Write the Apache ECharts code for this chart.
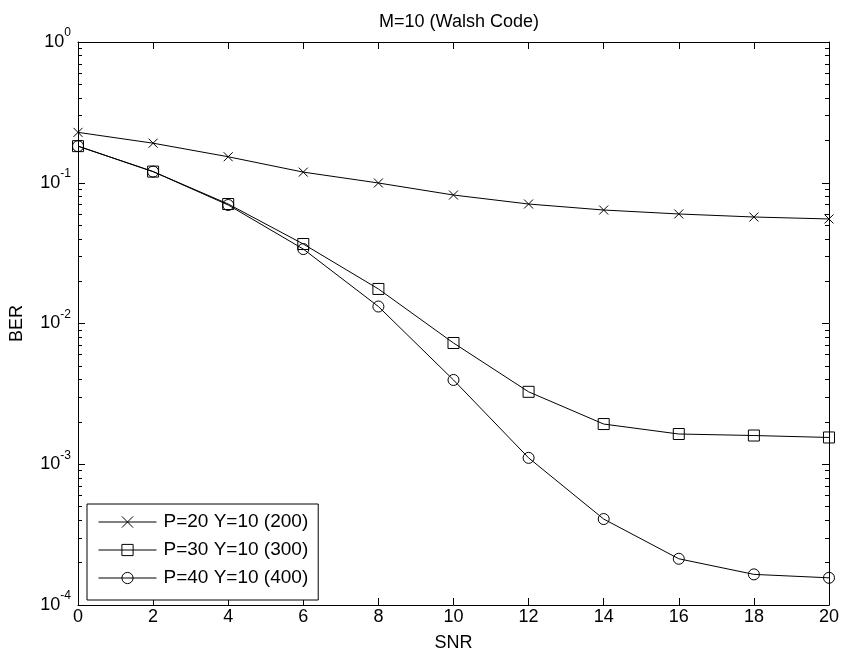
<!DOCTYPE html>
<html>
<head>
<meta charset="utf-8">
<script src="https://cdn.jsdelivr.net/npm/echarts@6/dist/echarts.min.js"></script>
<style>
  body { margin: 0; background: #fff; }
  #chart { width: 842px; height: 657px; }
</style>
</head>
<body>
<div id="chart"></div>
<script>
// SNR points on the x axis
const snr = [0, 2, 4, 6, 8, 10, 12, 14, 16, 18, 20]
// BER
const ber200 = [0.228, 0.191, 0.153, 0.119, 0.0996, 0.0818, 0.0706, 0.064, 0.060, 0.0571, 0.0553]
const ber300 = [0.182, 0.120, 0.0706, 0.0367, 0.0176, 0.00727, 0.00327, 0.00193, 0.00164, 0.00160, 0.00155]
const ber400 = [0.182, 0.120, 0.0695, 0.0338, 0.0132, 0.00397, 0.00111, 0.000408, 0.000213, 0.000165, 0.000156]
const seriesNames = ['P=20 Y=10 (200)', 'P=30 Y=10 (300)', 'P=40 Y=10 (400)']

// minor ticks of the log axis: 2..9 in every decade
const decades = [1e-4, 1e-3, 1e-2, 1e-1]
const minorSteps = [2, 3, 4, 5, 6, 7, 8, 9]
const minorTicks = []
decades.forEach(d => minorSteps.forEach(m => minorTicks.push(+(m * d).toPrecision(3))))

const font = 'Liberation Sans, Arial, sans-serif'
const black = '#000'

function pairs(ys) {
  return snr.map((x, i) => [x, ys[i]])
}

function logAxis(pos, opts) {
  return Object.assign({
    type: 'log',
    logBase: 10,
    min: 1e-4,
    max: 1,
    position: pos,
    axisLine: { show: true, lineStyle: { color: black, width: 1 } },
    axisTick: { show: true, inside: true, length: 7, lineStyle: { color: black } },
    axisLabel: { show: false },
    splitLine: { show: false },
    minorTick: { show: false }
  }, opts)
}

function minorAxis(pos) {
  return logAxis(pos, {
    axisLine: { show: false },
    axisTick: { show: true, inside: true, length: 4, customValues: minorTicks, lineStyle: { color: black } }
  })
}

const chart = echarts.init(document.getElementById('chart'))

const markStyle = {
  color: 'rgba(0,0,0,0)',
  borderColor: black,
  borderWidth: 1
}

chart.setOption({
  animation: false,
  backgroundColor: '#fff',
  title: {
    text: 'M=10 (Walsh Code)',
    left: 454,
    top: 8,
    textAlign: 'center',
    textStyle: { fontFamily: font, fontSize: 18, fontWeight: 'normal', color: black }
  },
  grid: { left: 76, right: 10, top: 42, bottom: 52 },
  legend: {
    orient: 'vertical',
    left: 87,
    top: 504,
    padding: [8, 10, 12, 11],
    itemWidth: 58,
    itemHeight: 14,
    itemGap: 8,
    borderColor: black,
    borderWidth: 1,
    backgroundColor: '#fff',
    lineStyle: { width: 1 },
    itemStyle: { borderWidth: 1 },
    textStyle: { fontFamily: font, fontSize: 19, color: black, lineHeight: 20, padding: [0, 0, 0, 2] },
    data: seriesNames
  },
  xAxis: [
    {
      type: 'value',
      min: 0,
      max: 20,
      interval: 2,
      position: 'bottom',
      name: 'SNR',
      nameLocation: 'middle',
      nameGap: 29,
      nameTextStyle: { fontFamily: font, fontSize: 18, color: black },
      axisLine: { lineStyle: { color: black, width: 1 } },
      axisTick: { inside: true, length: 7, lineStyle: { color: black } },
      axisLabel: { fontFamily: font, fontSize: 18, color: black, margin: 3 },
      splitLine: { show: false }
    },
    {
      type: 'value',
      min: 0,
      max: 20,
      interval: 2,
      position: 'top',
      axisLine: { lineStyle: { color: black, width: 1 } },
      axisTick: { inside: true, length: 7, lineStyle: { color: black } },
      axisLabel: { show: false },
      splitLine: { show: false }
    }
  ],
  yAxis: [
    logAxis('left', {
      name: 'BER',
      nameLocation: 'middle',
      nameGap: 52,
      nameTextStyle: { fontFamily: font, fontSize: 18, color: black },
      axisLabel: {
        show: true,
        margin: 7,
        formatter: v => '{b|10}{s|' + Math.round(Math.log10(v)) + '}',
        rich: {
          b: { fontFamily: font, fontSize: 18, color: black },
          s: { fontFamily: font, fontSize: 12, color: black, padding: [0, 0, 18, 0] }
        }
      }
    }),
    minorAxis('left'),
    logAxis('right'),
    minorAxis('right')
  ],
  series: [
    {
      name: seriesNames[0],
      type: 'line',
      data: pairs(ber200),
      symbol: 'path://M0,0L1,1M1,0L0,1',
      symbolSize: 9,
      lineStyle: { color: black, width: 1 },
      itemStyle: markStyle
    },
    {
      name: seriesNames[1],
      type: 'line',
      data: pairs(ber300),
      symbol: 'rect',
      symbolSize: 11,
      lineStyle: { color: black, width: 1 },
      itemStyle: markStyle
    },
    {
      name: seriesNames[2],
      type: 'line',
      data: pairs(ber400),
      symbol: 'circle',
      symbolSize: 11,
      lineStyle: { color: black, width: 1 },
      itemStyle: markStyle
    }
  ]
})
</script>
</body>
</html>
